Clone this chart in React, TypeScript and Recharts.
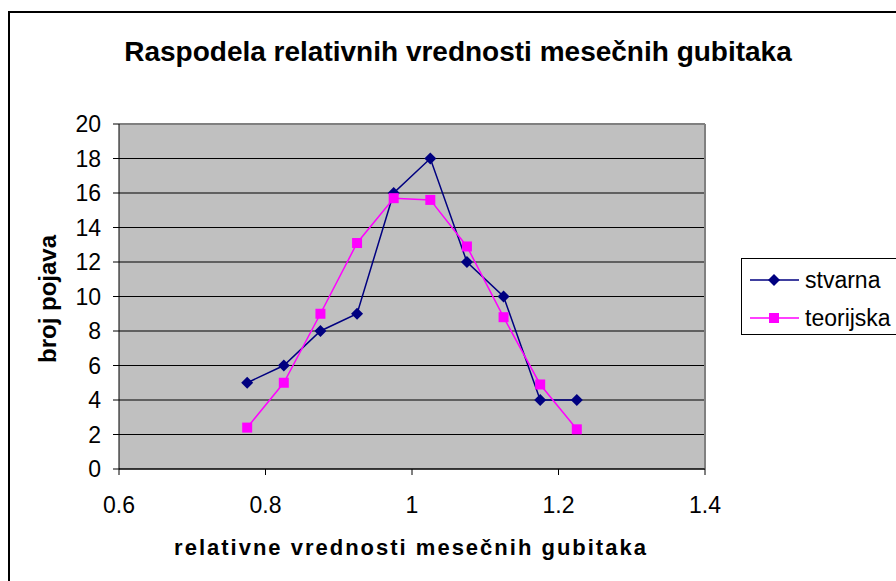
import React from 'react';
import { LineChart, Line, XAxis, YAxis, CartesianGrid, ReferenceLine } from 'recharts';

const xValues = [0.775, 0.825, 0.875, 0.925, 0.975, 1.025, 1.075, 1.125, 1.175, 1.225];
const stvarna = [5, 6, 8, 9, 16, 18, 12, 10, 4, 4];
const teorijska = [2.4, 5, 9, 13.1, 15.7, 15.6, 12.9, 8.8, 4.9, 2.3];
const xTicks = [0.6, 0.8, 1, 1.2, 1.4];
const yTicks = [0, 2, 4, 6, 8, 10, 12, 14, 16, 18, 20];

const NAVY = '#000080';
const MAGENTA = '#FF00FF';
const FONT = '"Liberation Sans", Arial, sans-serif';

const chartData = xValues.map((x, i) => ({ x, stvarna: stvarna[i], teorijska: teorijska[i] }));

function Diamond(props: any) {
  const { cx, cy } = props;
  if (cx == null || cy == null) return null;
  const r = 6;
  return <polygon points={`${cx},${cy - r} ${cx + r},${cy} ${cx},${cy + r} ${cx - r},${cy}`} fill={NAVY} />;
}

function Square(props: any) {
  const { cx, cy } = props;
  if (cx == null || cy == null) return null;
  const s = 5;
  return <rect x={cx - s} y={cy - s} width={s * 2} height={s * 2} fill={MAGENTA} />;
}

// legend drawn by hand, boxed like the original
function LegendBox() {
  const items = [
    { name: 'stvarna', color: NAVY, shape: 'diamond' },
    { name: 'teorijska', color: MAGENTA, shape: 'square' },
  ];
  return (
    <div
      style={{
        position: 'absolute',
        left: 741,
        top: 258,
        width: 180,
        height: 77,
        border: '1px solid #000',
        boxSizing: 'border-box',
        background: '#fff',
        fontSize: 23,
      }}
    >
      {items.map((it, i) => (
        <div key={it.name} style={{ position: 'absolute', left: 7, top: i === 0 ? 6 : 44, display: 'flex', alignItems: 'center', height: 30 }}>
          <svg width={50} height={14} style={{ marginRight: 6 }}>
            <line x1={1} y1={7} x2={50} y2={7} stroke={it.color} strokeWidth={1.5} />
            {it.shape === 'diamond' ? (
              <polygon points='25,1 31,7 25,13 19,7' fill={it.color} />
            ) : (
              <rect x={20} y={2} width={10} height={10} fill={it.color} />
            )}
          </svg>
          <span style={{ lineHeight: '30px' }}>{it.name}</span>
        </div>
      ))}
    </div>
  );
}

export default function App() {
  return (
    <div style={{ position: 'absolute', left: 0, top: 0, width: 896, height: 581, overflow: 'hidden', background: '#fff', fontFamily: FONT }}>
      <div style={{ position: 'absolute', left: 8, top: 11, width: 920, height: 600, border: '2px solid #000', boxSizing: 'border-box' }} />
      <LineChart width={896} height={581} data={chartData} margin={{ top: 124, right: 191, bottom: 72, left: 39 }}>
        <CartesianGrid fill='#C0C0C0' fillOpacity={1} vertical={false} stroke='#000' strokeOpacity={1} />
        <ReferenceLine y={20} stroke='#808080' strokeWidth={2} />
        <ReferenceLine x={1.4} stroke='#808080' strokeWidth={2} />
        <XAxis
          dataKey='x'
          type='number'
          domain={[0.6, 1.4]}
          ticks={xTicks}
          tickFormatter={(v) => String(Number(v.toFixed(1)))}
          height={40}
          tickSize={6}
          tickMargin={22}
          axisLine={{ stroke: '#000' }}
          tickLine={{ stroke: '#000' }}
          tick={{ fill: '#000', fontSize: 23, fontFamily: FONT }}
          allowDataOverflow
        />
        <YAxis
          type='number'
          domain={[0, 20]}
          ticks={yTicks}
          width={80}
          tickSize={6}
          tickMargin={12}
          axisLine={{ stroke: '#000' }}
          tickLine={{ stroke: '#000' }}
          tick={{ fill: '#000', fontSize: 23, fontFamily: FONT }}
        />
        <Line
          dataKey='stvarna'
          name='stvarna'
          type='linear'
          stroke={NAVY}
          strokeWidth={1.5}
          dot={<Diamond />}
          activeDot={false}
          isAnimationActive={false}
        />
        <Line
          dataKey='teorijska'
          name='teorijska'
          type='linear'
          stroke={MAGENTA}
          strokeWidth={1.5}
          dot={<Square />}
          activeDot={false}
          isAnimationActive={false}
        />
      </LineChart>
      <div style={{ position: 'absolute', left: 0, top: 36, width: 916, textAlign: 'center', fontWeight: 'bold', fontSize: 28 }}>
        Raspodela relativnih vrednosti mesečnih gubitaka
      </div>
      <div style={{ position: 'absolute', left: 0, top: 535, width: 822, textAlign: 'center', fontWeight: 'bold', fontSize: 22, letterSpacing: 2 }}>
        relativne vrednosti mesečnih gubitaka
      </div>
      <div
        style={{
          position: 'absolute',
          left: 48,
          top: 299,
          transform: 'translate(-50%, -50%) rotate(-90deg)',
          whiteSpace: 'nowrap',
          fontWeight: 'bold',
          fontSize: 24,
        }}
      >
        broj pojava
      </div>
      <LegendBox />
    </div>
  );
}
